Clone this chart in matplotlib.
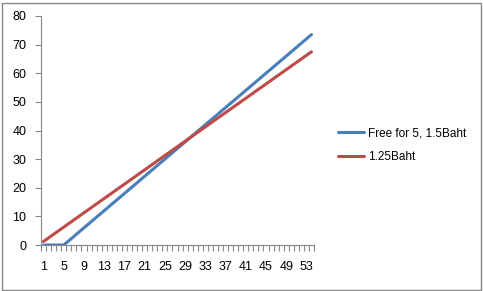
import matplotlib.pyplot as plt
import numpy as np

# days 1..54
days = list(range(1, 55))
free_for_5 = [0, 0, 0, 0, 0, 1.5, 3, 4.5, 6, 7.5, 9, 10.5, 12, 13.5, 15, 16.5, 18,
              19.5, 21, 22.5, 24, 25.5, 27, 28.5, 30, 31.5, 33, 34.5, 36, 37.5, 39,
              40.5, 42, 43.5, 45, 46.5, 48, 49.5, 51, 52.5, 54, 55.5, 57, 58.5, 60,
              61.5, 63, 64.5, 66, 67.5, 69, 70.5, 72, 73.5]
flat_125 = [1.25, 2.5, 3.75, 5, 6.25, 7.5, 8.75, 10, 11.25, 12.5, 13.75, 15, 16.25,
            17.5, 18.75, 20, 21.25, 22.5, 23.75, 25, 26.25, 27.5, 28.75, 30, 31.25,
            32.5, 33.75, 35, 36.25, 37.5, 38.75, 40, 41.25, 42.5, 43.75, 45, 46.25,
            47.5, 48.75, 50, 51.25, 52.5, 53.75, 55, 56.25, 57.5, 58.75, 60, 61.25,
            62.5, 63.75, 65, 66.25, 67.5]
labels = ["Free for 5, 1.5Baht", "1.25Baht"]
y_ticks = [0, 10, 20, 30, 40, 50, 60, 70, 80]

plt.rcParams["font.family"] = ["Liberation Sans", "DejaVu Sans"]
axis_color = "#868686"

fig = plt.figure(figsize=(4.83, 2.91), dpi=100)
fig.patch.set_facecolor("white")
ax = fig.add_axes([41 / 483, 46 / 291, 273 / 483, 229 / 291])

ax.plot(days, free_for_5, color="#4A7EBB", lw=2.2, label=labels[0],
        solid_capstyle="round")
ax.plot(days, flat_125, color="#BE4B48", lw=2.2, label=labels[1],
        solid_capstyle="round")

ax.set_xlim(0.5, len(days) + 0.5)
ax.set_ylim(0, 80)
ax.set_yticks(y_ticks)
ax.set_xticks(days[::4])
ax.set_xticks(np.arange(0.5, len(days) + 1, 1), minor=True)
ax.tick_params(axis="x", which="major", length=0, pad=11.5, labelsize=9)
ax.tick_params(axis="x", which="minor", length=4, color=axis_color, width=0.8)
ax.tick_params(axis="y", length=4, color=axis_color, width=0.8, labelsize=9, pad=6.5)

for side in ["top", "right"]:
    ax.spines[side].set_visible(False)
for side in ["left", "bottom"]:
    ax.spines[side].set_color(axis_color)
    ax.spines[side].set_linewidth(0.8)

ax.legend(loc="center left", bbox_to_anchor=(1.05, 0.437), frameon=False,
          fontsize=8.5, handlelength=2.2, handletextpad=0.3, labelspacing=1.0)

fig.add_artist(plt.Rectangle((1.5 / 483, 1.5 / 291), 479 / 483, 287 / 291,
                             transform=fig.transFigure, fill=False,
                             edgecolor="#888888", lw=1))

fig.savefig("out.png", dpi=100, facecolor="white")
